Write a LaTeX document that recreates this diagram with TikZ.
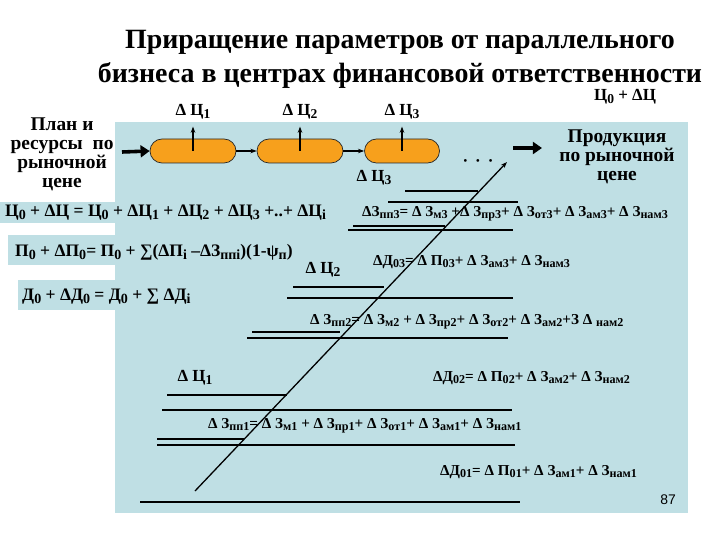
\documentclass[tikz,border=0pt]{standalone}
\usepackage{fontspec}
\setmainfont{Liberation Serif}
\newfontfamily\pagefont{Liberation Sans}
\usepackage{tikz}
\usetikzlibrary{arrows.meta,positioning,shapes.misc}
\definecolor{panelc}{HTML}{BFDFE4}
\definecolor{capc}{HTML}{F7A01C}
\tikzset{
  >={Stealth[length=2.2mm,width=1.6mm]},
  capsule/.style={rounded rectangle,draw=black!85,line width=0.7pt,fill=capc,minimum width=86bp,minimum height=24bp,inner sep=0pt},
  uparr/.style={->,line width=1.1pt},
  link/.style={->,line width=1.1pt},
  fat/.style={-{Triangle[length=3.2mm,width=4.2mm]},line width=3.6pt},
  longbar/.style={line width=2.8pt},
  shortbar/.style={line width=2pt},
  diag/.style={->,line width=1.3pt},
  ttl/.style={font=\fontsize{28}{32}\selectfont\bfseries,inner sep=0pt},
  lbl/.style={font=\fontsize{17}{19}\selectfont\bfseries,inner sep=0pt},
  frm/.style={font=\fontsize{15.2}{18}\selectfont\bfseries,inner sep=0pt,anchor=west},
  bigfrm/.style={frm,font=\fontsize{17.6}{20}\selectfont\bfseries},
  side/.style={font=\fontsize{19.5}{19}\selectfont\bfseries,align=center,inner sep=0pt},
}
\newcommand{\lo}[1]{\raisebox{-0.35ex}{\scalebox{0.8}{#1}}}
\begin{document}
\begin{tikzpicture}[x=1bp,y=-1bp]
  \useasboundingbox (0,0) rectangle (720,540);
  % blue panel
  \fill[panelc] (115,122) rectangle (688,513);
  \fill[panelc] (0,202) rectangle (115,223);
  \fill[panelc] (8,235) rectangle (115,265);
  \fill[panelc] (18,280) rectangle (115,310);
  % title
  \node[ttl] (t1) at (400,42) {Приращение параметров от параллельного};
  \node[ttl] (t2) at (400,75) {бизнеса в центрах финансовой ответственности};
  % top chain
  \node[side] (plan) at (62,154) {План и\\ресурсы\ \ по\\рыночной\\цене};
  \node[capsule] (c1) at (193,151) {};
  \node[capsule] (c2) at (300,151) {};
  \node[capsule,minimum width=75bp] (c3) at (402,151) {};
  \node[lbl] (q1) at (193,112) {Δ Ц\lo{1}};
  \node[lbl] (q2) at (300,112) {Δ Ц\lo{2}};
  \node[lbl] (q3) at (402,112) {Δ Ц\lo{3}};
  \node[lbl] (q3b) at (374,178) {Δ Ц\lo{3}};
  \node[font=\fontsize{17}{19}\selectfont\bfseries,inner sep=0pt] (dots) at (478,163) {·\hspace{7bp}·\hspace{7bp}·};
  \node[side] (prod) at (617,157) {Продукция\\по рыночной\\цене};
  \node[lbl] (sum0) at (625,97) {Ц\lo{0} + ΔЦ};
  \coordinate (in0) at (122,152);
  \coordinate (out0) at (513,148);
  \coordinate (out1) at (542,148);
  \draw[fat] (in0) -- (c1.west);
  \draw[link] (c1.east) -- (c2.west);
  \draw[link] (c2.east) -- (c3.west);
  \draw[uparr] (c1.center) -- ([yshift=-7bp]q1.south);
  \draw[uparr] (c2.center) -- ([yshift=-7bp]q2.south);
  \draw[uparr] (c3.center) -- ([yshift=-7bp]q3.south);
  \draw[fat] (out0) -- (out1);
  % left formulas
  \node[bigfrm] (e1) at (5,213) {Ц\lo{0} + ΔЦ = Ц\lo{0} + ΔЦ\lo{1} + ΔЦ\lo{2} + ΔЦ\lo{3} +..+ ΔЦ\lo{i}};
  \node[bigfrm] (e2) at (15,252) {П\lo{0} + ΔП\lo{0}= П\lo{0} + ∑(ΔП\lo{i} –ΔЗ\lo{ппi})(1-ψ\lo{п})};
  \node[bigfrm] (e3) at (22,297) {Д\lo{0} + ΔД\lo{0} = Д\lo{0} + ∑ ΔД\lo{i}};
  % bars
  \draw[shortbar] (405,191) -- (478,191);
  \draw[longbar] (388,202) -- (518,202);
  \draw[shortbar] (353,226) -- (445,226);
  \draw[longbar] (348,230) -- (513,230);
  \draw[shortbar] (293,287) -- (384,287);
  \draw[longbar] (287,298) -- (513,298);
  \draw[shortbar] (252,332) -- (340,332);
  \draw[longbar] (247,338) -- (508,338);
  \draw[shortbar] (167,395) -- (287,395);
  \draw[longbar] (162,410) -- (512,410);
  \draw[shortbar] (157,439) -- (244,439);
  \draw[longbar] (157,445) -- (515,445);
  \draw[longbar] (140,502) -- (520,502);
  % diagonal
  \coordinate (dg0) at (195,491);
  \coordinate (dg1) at (507,162);
  \draw[diag] (dg0) -- (dg1);
  % right formulas
  \node[frm] (z3) at (362,214) {ΔЗ\lo{пп3}= Δ З\lo{м3} +Δ З\lo{пр3}+ Δ З\lo{от3}+ Δ З\lo{ам3}+ Δ З\lo{нам3}};
  \node[frm] (d3) at (373,262) {ΔД\lo{03}= Δ П\lo{03}+ Δ З\lo{ам3}+ Δ З\lo{нам3}};
  \node[lbl] (q2b) at (323,270) {Δ Ц\lo{2}};
  \node[frm] (z2) at (310,322) {Δ З\lo{пп2}= Δ З\lo{м2} + Δ З\lo{пр2}+ Δ З\lo{от2}+ Δ З\lo{ам2}+З Δ \lo{нам2}};
  \node[lbl] (q1b) at (195,378) {Δ Ц\lo{1}};
  \node[frm] (d2) at (433,378) {ΔД\lo{02}= Δ П\lo{02}+ Δ З\lo{ам2}+ Δ З\lo{нам2}};
  \node[frm] (z1) at (208,426) {Δ З\lo{пп1}= Δ З\lo{м1} + Δ З\lo{пр1}+ Δ З\lo{от1}+ Δ З\lo{ам1}+ Δ З\lo{нам1}};
  \node[frm] (d1) at (440,472) {ΔД\lo{01}= Δ П\lo{01}+ Δ З\lo{ам1}+ Δ З\lo{нам1}};
  \node[font=\pagefont\fontsize{14}{16}\selectfont,inner sep=0pt] (pg) at (668,500) {87};
\end{tikzpicture}
\end{document}
